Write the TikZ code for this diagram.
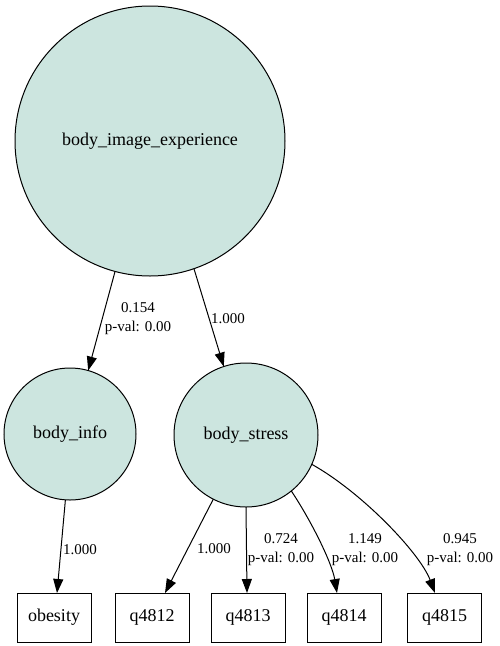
\documentclass[tikz,border=0pt]{standalone}
\usepackage{fontspec}
\setmainfont{Liberation Serif}
\usetikzlibrary{arrows.meta}
\definecolor{latfill}{RGB}{204,229,223}
\begin{document}
\begin{tikzpicture}[x=1pt,y=-1pt,
  latent/.style={circle,draw=black,fill=latfill,line width=1pt,inner sep=0pt,outer sep=0pt,font=\fontsize{18}{21}\selectfont},
  obs/.style={rectangle,draw=black,fill=white,line width=1pt,minimum width=74pt,minimum height=49pt,inner sep=0pt,outer sep=0pt,font=\fontsize{18}{21}\selectfont},
  conn/.style={line width=1pt,-{Triangle[length=14pt,width=10pt]}},
  elab/.style={align=center,inner sep=0pt,font=\fontsize{15}{19}\selectfont}]
\useasboundingbox (0,0) rectangle (500,646);
\node[latent,minimum size=270pt] (bie) at (150,141) {body\_image\_experience};
\node[latent,minimum size=132pt] (binfo) at (70,434) {body\_info};
\node[latent,minimum size=144pt] (bstress) at (246,435) {body\_stress};
\node[obs] (obesity) at (54,617.5) {obesity};
\node[obs] (q4812) at (152,617.5) {q4812};
\node[obs] (q4813) at (248,617.5) {q4813};
\node[obs] (q4814) at (344,617.5) {q4814};
\node[obs] (q4815) at (444.5,617.5) {q4815};
\draw[conn] (bie.-105) -- (binfo.74);
\draw[conn] (bie.-71.4) -- (bstress.108.4);
\draw[conn] (binfo.-94) -- ([xshift=3pt]obesity.north);
\draw[conn] (bstress.-117.6) -- ([xshift=13pt]q4812.north);
\draw[conn] (bstress.-90) -- ([xshift=-1pt]q4813.north);
\draw[conn] (bstress.-51) .. controls +(20,30) and +(-5,-30) .. ([xshift=-7pt]q4814.north);
\draw[conn] (bstress.-24) .. controls +(50,28) and +(-15,-40) .. ([xshift=-9.5pt]q4815.north);
\node[elab] (l1) at (138,319) {0.154\\p-val: 0.00};
\node[elab] (l2) at (228,319) {1.000};
\node[elab] (l3) at (80,550) {1.000};
\node[elab] (l4) at (214,549) {1.000};
\node[elab] (l5) at (281,549.5) {0.724\\p-val: 0.00};
\node[elab] (l6) at (365,549.5) {1.149\\p-val: 0.00};
\node[elab] (l7) at (460,549.5) {0.945\\p-val: 0.00};
\end{tikzpicture}
\end{document}
